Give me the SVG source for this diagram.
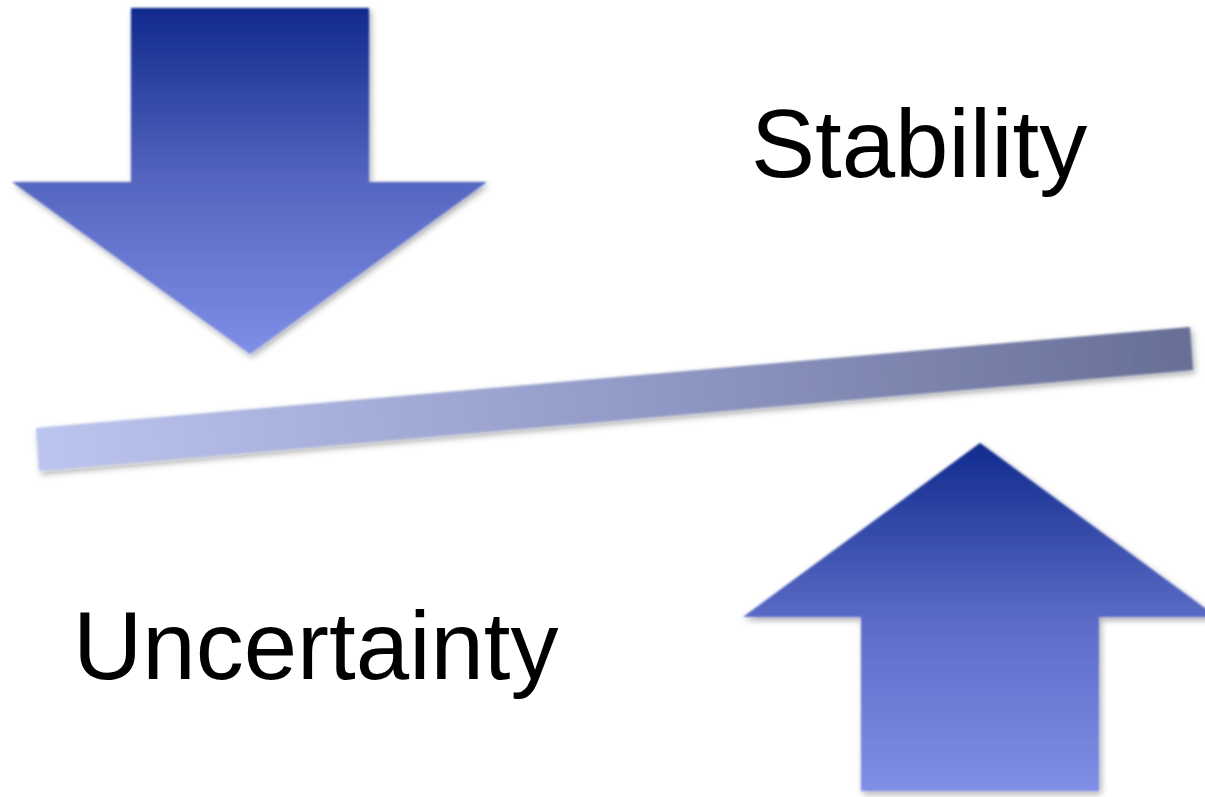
<svg xmlns="http://www.w3.org/2000/svg" width="1205" height="797" viewBox="0 0 1205 797">
<style>
.lbl{font-family:"Liberation Sans",Arial,sans-serif;font-size:96px;fill:#000}
</style>
<defs>
<linearGradient id="gDown" x1="0" y1="0" x2="0" y2="1">
<stop offset="0" stop-color="#102a8d"/>
<stop offset="0.5" stop-color="#5566c0"/>
<stop offset="1" stop-color="#7f8ee6"/>
</linearGradient>
<linearGradient id="gUp" x1="0" y1="0" x2="0" y2="1">
<stop offset="0" stop-color="#102a8d"/>
<stop offset="0.5" stop-color="#5a6bc6"/>
<stop offset="1" stop-color="#7f8ee6"/>
</linearGradient>
<linearGradient id="gBar" gradientUnits="userSpaceOnUse" x1="1190" y1="330" x2="40" y2="470">
<stop offset="0" stop-color="#676f96"/>
<stop offset="0.5" stop-color="#939cc8"/>
<stop offset="1" stop-color="#bcc5ef"/>
</linearGradient>
<filter id="sh" x="-10%" y="-10%" width="120%" height="125%">
<feGaussianBlur in="SourceGraphic" stdDeviation="0.8" result="soft"/>
<feDropShadow in="soft" dx="2" dy="3" stdDeviation="3" flood-color="#000" flood-opacity="0.35"/>
</filter>
</defs>
<g id="down-arrow" filter="url(#sh)">
<path d="M131 8 H369 V182 H487 L250 354 L12 182 H131 Z" fill="url(#gDown)"/>
</g>
<g id="balance-bar" filter="url(#sh)">
<path d="M36 428 L1190 327 L1193 370 L39 471 Z" fill="url(#gBar)"/>
</g>
<g id="up-arrow" filter="url(#sh)">
<path d="M980 443 L1217 617 H1099 V791 H861 V617 H743 Z" fill="url(#gUp)"/>
</g>
<g id="label-stability">
<text class="lbl" x="751" y="177">Stability</text>
</g>
<g id="label-uncertainty">
<text class="lbl" x="73" y="679">Uncertainty</text>
</g>
</svg>
